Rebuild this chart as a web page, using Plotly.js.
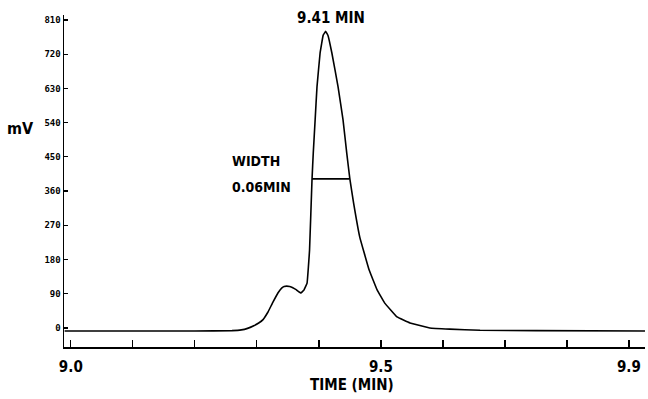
<!DOCTYPE html>
<html>
<head>
<meta charset="utf-8">
<script src="https://cdn.plot.ly/plotly-3.0.1.min.js"></script>
<style>html,body{margin:0;padding:0;background:#fff;}#chart{width:648px;height:399px;}</style>
</head>
<body>
<div id="chart"></div>
<script>
// Chromatogram signal (time in min, signal in mV)
const timeMin = [8.99, 9.10, 9.20, 9.26, 9.275, 9.285, 9.295, 9.303, 9.310, 9.318, 9.326, 9.334, 9.340, 9.344, 9.348, 9.353, 9.358, 9.364, 9.371, 9.376, 9.381, 9.385, 9.389, 9.391, 9.394, 9.397, 9.402, 9.407, 9.411, 9.415, 9.421, 9.431, 9.439, 9.445, 9.450, 9.456, 9.466, 9.481, 9.494, 9.506, 9.526, 9.547, 9.579, 9.611, 9.66, 9.75, 9.926];
const signalMv = [-8, -8, -8, -7, -5, -1, 6, 13, 22, 42, 68, 92, 105, 109, 110, 109, 106, 100, 92, 100, 118, 205, 392, 460, 547, 634, 723, 770, 780, 768, 723, 634, 547, 460, 392, 329, 239, 153, 100, 66, 29, 13, 0, -3, -6, -7, -8];

// Peak annotations
const peakTime = 9.411;
const peakMv = 780;
const peakLabel = "9.41 MIN";
const halfHeightMv = 392;
const widthLeft = 9.389;
const widthRight = 9.449;
const widthLabel1 = "WIDTH";
const widthLabel2 = "0.06MIN";

// Axes
const yTicks = [0, 90, 180, 270, 360, 450, 540, 630, 720, 810];
const xTicks = [9.0, 9.1, 9.2, 9.3, 9.4, 9.5, 9.6, 9.7, 9.8, 9.9];
const xTickText = ["9.0", "", "", "", "", "9.5", "", "", "", "9.9"];
const xTitle = "TIME (MIN)";
const yTitle = "mV";

const boldFont = "DejaVu Sans Condensed, Liberation Sans Narrow, sans-serif";

const traces = [
  {x: timeMin, y: signalMv, type: "scatter", mode: "lines",
   line: {color: "#000", width: 1.6, shape: "spline", smoothing: 0.2}, hoverinfo: "skip"},
  {x: [widthLeft, widthRight], y: [halfHeightMv, halfHeightMv], type: "scatter", mode: "lines",
   line: {color: "#000", width: 1.6}, hoverinfo: "skip"}
];

const layout = {
  width: 648, height: 399,
  margin: {l: 64, r: 3, t: 15, b: 52},
  paper_bgcolor: "#fff", plot_bgcolor: "#fff",
  showlegend: false,
  xaxis: {
    range: [8.989, 9.926], showgrid: false, zeroline: false,
    showline: true, linecolor: "#000", linewidth: 1.5,
    ticks: "inside", ticklen: 7, tickwidth: 1.3, tickcolor: "#000",
    tickmode: "array", tickvals: xTicks, ticktext: xTickText,
    ticklabelstandoff: 5,
    tickfont: {family: boldFont, size: 15, color: "#000", weight: "bold"}
  },
  yaxis: {
    range: [-50, 823], showgrid: false, zeroline: false,
    showline: true, linecolor: "#000", linewidth: 1.5,
    ticks: "inside", ticklen: 4, tickwidth: 1.2, tickcolor: "#000",
    tickmode: "array", tickvals: yTicks, ticktext: yTicks.map(String),
    tickfont: {family: "DejaVu Sans Mono, monospace", size: 9, color: "#000", weight: "bold"}
  },
  annotations: [
    {text: "<b>" + peakLabel + "</b>", x: peakTime, y: peakMv, xref: "x", yref: "y",
     showarrow: false, yanchor: "bottom", yshift: 2, xshift: 5,
     font: {family: boldFont, size: 15, color: "#000"}},
    {text: "<b>" + widthLabel1 + "</b>", x: 9.257, y: 440, xref: "x", yref: "y",
     showarrow: false, xanchor: "left", font: {family: boldFont, size: 14, color: "#000"}},
    {text: "<b>" + widthLabel2 + "</b>", x: 9.257, y: 372, xref: "x", yref: "y",
     showarrow: false, xanchor: "left", font: {family: boldFont, size: 14, color: "#000"}},
    {text: "<b>" + xTitle + "</b>", x: 0, y: 0, xref: "paper", yref: "paper", yanchor: "middle",
     showarrow: false, font: {family: boldFont, size: 15, color: "#000"}},
    {text: "<b>" + yTitle + "</b>", x: 0, y: 0, xref: "paper", yref: "paper", xanchor: "left",
     showarrow: false, font: {family: boldFont, size: 16, color: "#000"}}
  ]
};

// pixel positions for title annotations converted to paper coords
const plotW = 648 - 64 - 3, plotH = 399 - 15 - 52;
layout.annotations[3].x = (352 - 64) / plotW;
layout.annotations[3].y = (347 - 385) / plotH;
layout.annotations[4].x = (5 - 64) / plotW;
layout.annotations[4].y = (347 - 117) / plotH;

Plotly.newPlot("chart", traces, layout, {displayModeBar: false, staticPlot: true});
</script>
</body>
</html>
